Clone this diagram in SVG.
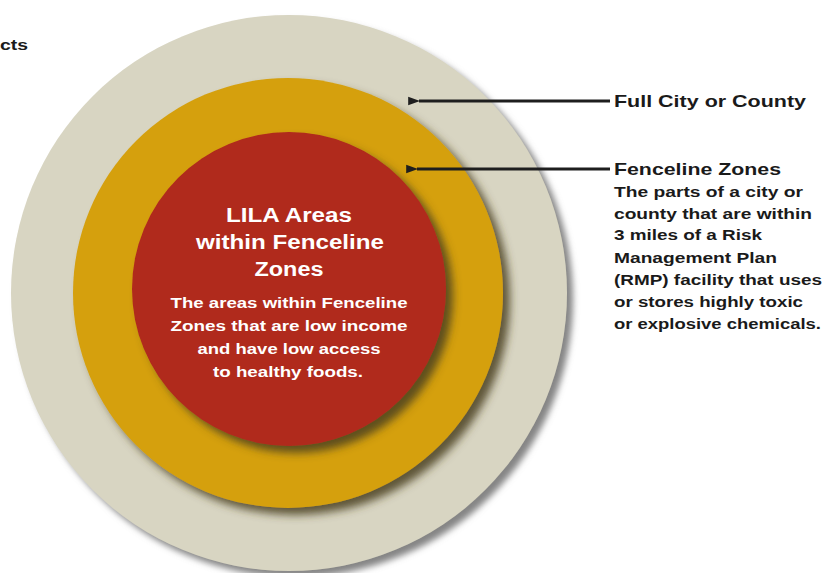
<svg xmlns="http://www.w3.org/2000/svg" width="822" height="573" viewBox="0 0 822 573">
<style>
.lbl{font-family:"Liberation Sans",Arial,sans-serif;fill:#1a1a1a;}
.h{font-size:17px;font-weight:bold;}
.b{font-size:14.5px;font-weight:bold;}
.w{font-family:"Liberation Sans",Arial,sans-serif;fill:#ffffff;font-weight:bold;text-anchor:middle;}
.wt{font-size:20px;}
.wb{font-size:14.5px;}
.conn{stroke:#1e1e1e;stroke-width:3;fill:none;marker-start:url(#ah);}
</style>
<defs>
<filter id="sh1" x="-10%" y="-10%" width="125%" height="125%">
<feGaussianBlur in="SourceAlpha" stdDeviation="3"/>
<feOffset dx="6" dy="6" result="o"/>
<feFlood flood-color="#858585" flood-opacity="1"/>
<feComposite in2="o" operator="in"/>
<feMerge><feMergeNode/><feMergeNode in="SourceGraphic"/></feMerge>
</filter>
<filter id="sh2" x="-10%" y="-10%" width="125%" height="125%">
<feGaussianBlur in="SourceAlpha" stdDeviation="4"/>
<feOffset dx="7" dy="7" result="o"/>
<feFlood flood-color="#4a4020" flood-opacity="0.85"/>
<feComposite in2="o" operator="in"/>
<feMerge><feMergeNode/><feMergeNode in="SourceGraphic"/></feMerge>
</filter>
<marker id="ah" viewBox="0 0 10 10" refX="1" refY="5" markerWidth="4" markerHeight="4" orient="auto-start-reverse" markerUnits="strokeWidth">
<path d="M10,1.5 L0,5 L10,8.5 z" fill="#1e1e1e"/>
</marker>
</defs>
<rect width="822" height="573" fill="#ffffff"/>
<text class="lbl" x="0" y="50" style="font-size:15px;font-weight:bold" textLength="28" lengthAdjust="spacingAndGlyphs">cts</text>
<g id="full-city">
<circle cx="289" cy="293" r="278" fill="#d8d5c2" filter="url(#sh1)"/>
</g>
<g id="fenceline-zones">
<circle cx="288" cy="293" r="215" fill="#d5a010" filter="url(#sh2)"/>
</g>
<g id="lila-areas">
<circle cx="289" cy="289" r="157" fill="#b0291e" filter="url(#sh2)"/>
<text class="w wt" x="289" y="222" textLength="126" lengthAdjust="spacingAndGlyphs">LILA Areas</text>
<text class="w wt" x="290" y="249" textLength="188" lengthAdjust="spacingAndGlyphs">within Fenceline</text>
<text class="w wt" x="289" y="276" textLength="69" lengthAdjust="spacingAndGlyphs">Zones</text>
<text class="w wb" x="289" y="308" textLength="237" lengthAdjust="spacingAndGlyphs">The areas within Fenceline</text>
<text class="w wb" x="289" y="331" textLength="237" lengthAdjust="spacingAndGlyphs">Zones that are low income</text>
<text class="w wb" x="289" y="354" textLength="183" lengthAdjust="spacingAndGlyphs">and have low access</text>
<text class="w wb" x="288" y="377" textLength="150" lengthAdjust="spacingAndGlyphs">to healthy foods.</text>
</g>
<g id="connectors">
<line class="conn" x1="419" y1="101" x2="610" y2="101"/>
<line class="conn" x1="417" y1="169" x2="610" y2="169"/>
</g>
<g id="label-full-city">
<text class="lbl h" x="614" y="107" textLength="192" lengthAdjust="spacingAndGlyphs">Full City or County</text>
</g>
<g id="label-fenceline">
<text class="lbl h" x="614" y="175" textLength="167" lengthAdjust="spacingAndGlyphs">Fenceline Zones</text>
<text class="lbl b" x="614" y="197" textLength="189" lengthAdjust="spacingAndGlyphs">The parts of a city or</text>
<text class="lbl b" x="614" y="219" textLength="198" lengthAdjust="spacingAndGlyphs">county that are within</text>
<text class="lbl b" x="614" y="240" textLength="148" lengthAdjust="spacingAndGlyphs">3 miles of a Risk</text>
<text class="lbl b" x="614" y="263" textLength="163" lengthAdjust="spacingAndGlyphs">Management Plan</text>
<text class="lbl b" x="614" y="285" textLength="208" lengthAdjust="spacingAndGlyphs">(RMP) facility that uses</text>
<text class="lbl b" x="614" y="307" textLength="189" lengthAdjust="spacingAndGlyphs">or stores highly toxic</text>
<text class="lbl b" x="614" y="329" textLength="207" lengthAdjust="spacingAndGlyphs">or explosive chemicals.</text>
</g>
</svg>
